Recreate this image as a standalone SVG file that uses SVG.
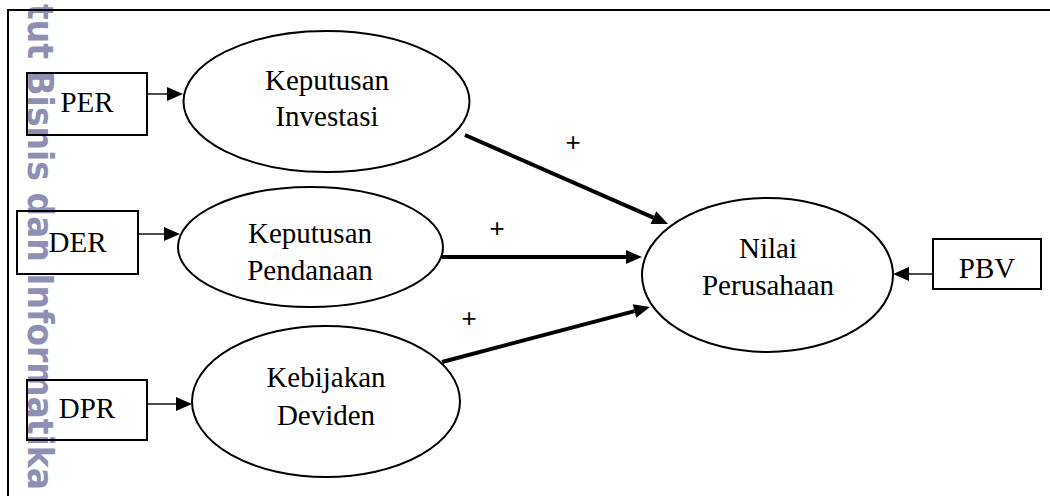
<svg xmlns="http://www.w3.org/2000/svg" width="1050" height="496" viewBox="0 0 1050 496">
<style>
.box{fill:none;stroke:#000;stroke-width:2}
.ell{fill:none;stroke:#000;stroke-width:2}
.lbl{font-family:"Liberation Serif","Times New Roman",serif;font-size:29px;fill:#000;text-anchor:middle}
.thin{stroke:#000;stroke-width:1.4;fill:none}
.thick{stroke:#000;stroke-width:4;fill:none}
.plus{font-family:"Liberation Sans",Arial,sans-serif;font-size:26px;fill:#000;text-anchor:middle}
.wm{font-family:"DejaVu Sans",sans-serif;font-weight:bold;font-size:35px;fill:#8F8FB4}
</style>
<defs>
<marker id="ah" markerUnits="userSpaceOnUse" markerWidth="16" markerHeight="14" refX="0" refY="7" orient="auto" overflow="visible">
<path d="M0,0 L16,7 L0,14 z" fill="#000"/>
</marker>
</defs>
<rect width="1050" height="496" fill="#fff"/>
<text class="wm" transform="translate(28,4) rotate(90)" x="0" y="0" textLength="486" lengthAdjust="spacingAndGlyphs">tut Bisnis dan Informatika</text>
<path d="M8,496 V10 H1050" fill="none" stroke="#000" stroke-width="2"/>
<g id="per"><rect class="box" x="27" y="73" width="120" height="62"/><text class="lbl" x="87" y="112">PER</text></g>
<g id="der"><rect class="box" x="17" y="211" width="121" height="63"/><text class="lbl" x="77.5" y="252">DER</text></g>
<g id="dpr"><rect class="box" x="27" y="380" width="120" height="60"/><text class="lbl" x="87" y="418">DPR</text></g>
<g id="pbv"><rect class="box" x="933" y="239" width="108" height="50"/><text class="lbl" x="987" y="278">PBV</text></g>
<g id="investasi"><ellipse class="ell" cx="326.5" cy="101.5" rx="143" ry="70.5"/><text class="lbl" x="327" y="90">Keputusan</text><text class="lbl" x="327" y="126">Investasi</text></g>
<g id="pendanaan"><ellipse class="ell" cx="310.5" cy="247" rx="132.5" ry="60"/><text class="lbl" x="310" y="243">Keputusan</text><text class="lbl" x="310" y="280">Pendanaan</text></g>
<g id="deviden"><ellipse class="ell" cx="326" cy="401.5" rx="134" ry="75.5"/><text class="lbl" x="326" y="387">Kebijakan</text><text class="lbl" x="326" y="425">Deviden</text></g>
<g id="nilai"><ellipse class="ell" cx="767.5" cy="275" rx="125.5" ry="77"/><text class="lbl" x="768" y="258">Nilai</text><text class="lbl" x="768" y="295">Perusahaan</text></g>
<g id="connectors">
<line class="thin" x1="147" y1="94" x2="167" y2="94" marker-end="url(#ah)"/>
<line class="thin" x1="138" y1="234" x2="164" y2="234" marker-end="url(#ah)"/>
<line class="thin" x1="147" y1="404" x2="176" y2="404" marker-end="url(#ah)"/>
<line class="thin" x1="933" y1="274" x2="909" y2="274" marker-end="url(#ah)"/>
<line class="thick" x1="465" y1="135" x2="653.4" y2="217.6" marker-end="url(#ah)"/>
<line class="thick" x1="442" y1="257" x2="626" y2="257" marker-end="url(#ah)"/>
<line class="thick" x1="442" y1="362" x2="634.5" y2="311.1" marker-end="url(#ah)"/>
<text class="plus" x="573" y="151">+</text>
<text class="plus" x="497" y="237">+</text>
<text class="plus" x="469" y="327">+</text>
</g>
</svg>
